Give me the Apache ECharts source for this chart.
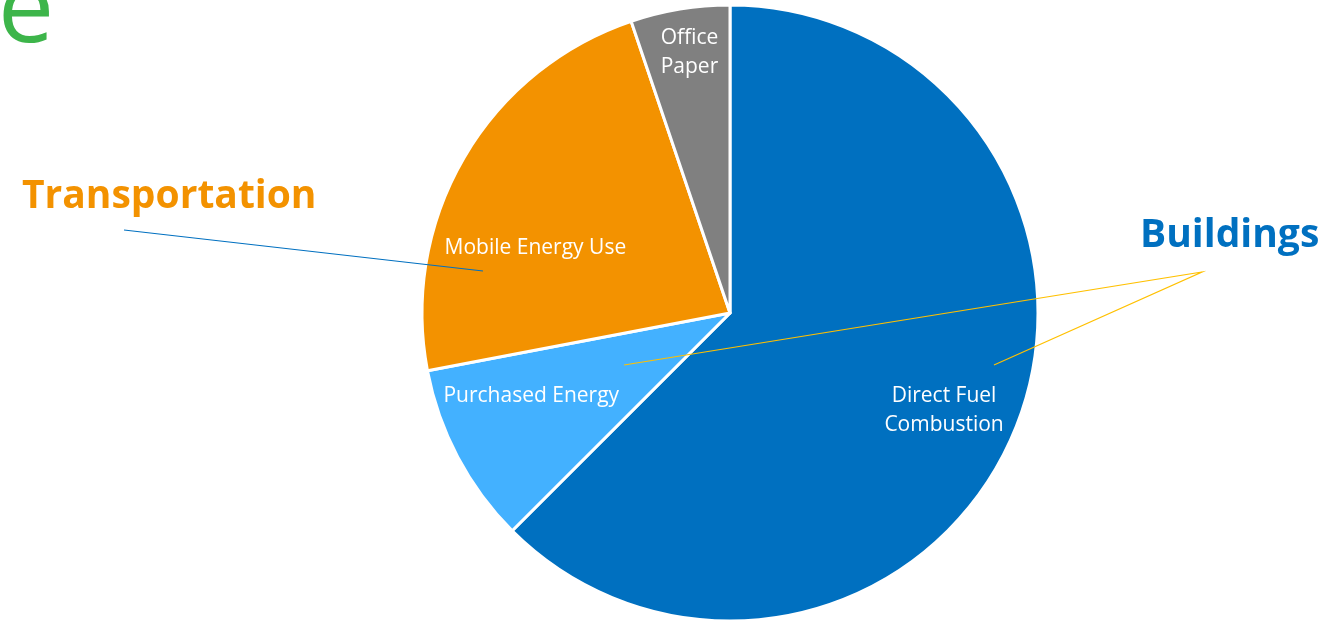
<!DOCTYPE html>
<html>
<head>
<meta charset="utf-8">
<title>Emissions by source</title>
<script src="https://cdn.jsdelivr.net/npm/echarts@6/dist/echarts.min.js"></script>
<style>
  html, body { margin: 0; padding: 0; background: #fff; }
  #chart { width: 1327px; height: 622px; }
</style>
</head>
<body>
<div id="chart"></div>
<script>
// slice names and shares (%), clockwise from 12 o'clock
const categories = ['Direct Fuel\nCombustion', 'Purchased Energy', 'Mobile Energy Use', 'Office\nPaper']
const shares = [62.5, 9.5, 22.8, 5.2]
const sliceColors = ['#0070C0', '#43B1FF', '#F39200', '#808080']

// label nudges from the default inside spot
const labelShift = [[69, 37], [-60, 10], [-59, 14], [-15, -106]]

const FONT = '"Open Sans", sans-serif'

const chart = echarts.init(document.getElementById('chart'))

const option = {
  animation: false,
  backgroundColor: '#fff',
  series: [
    {
      type: 'pie',
      center: [730, 313],
      radius: [0, 308],
      startAngle: 90,
      clockwise: true,
      silent: true,
      itemStyle: { borderColor: '#fff', borderWidth: 3 },
      label: {
        show: true,
        position: 'inside',
        color: '#fff',
        fontFamily: FONT,
        fontSize: 21,
        lineHeight: 29,
        align: 'center',
        formatter: p => p.name
      },
      labelLine: { show: false },
      labelLayout: p => ({ dx: labelShift[p.dataIndex][0], dy: labelShift[p.dataIndex][1] }),
      data: categories.map((c, i) => ({
        name: c,
        value: shares[i],
        itemStyle: { color: sliceColors[i] }
      }))
    }
  ],
  graphic: [
    // cut-off title letter
    {
      type: 'text',
      left: -2,
      top: -36,
      z: 100,
      style: { text: 'e', fill: '#3DB54A', font: '100px ' + FONT }
    },
    {
      type: 'text',
      left: 22,
      top: 177,
      z: 100,
      style: { text: 'Transportation', fill: '#F39200', font: 'bold 39px ' + FONT }
    },
    {
      type: 'text',
      left: 1140,
      top: 216,
      z: 100,
      style: { text: 'Buildings', fill: '#0070C0', font: 'bold 39px ' + FONT }
    },
    {
      type: 'line',
      z: 100,
      shape: { x1: 124, y1: 230, x2: 483, y2: 271 },
      style: { stroke: '#0070C0', lineWidth: 1.2 }
    },
    {
      type: 'polyline',
      z: 100,
      shape: { points: [[624, 365], [1202, 272], [994, 365]] },
      style: { stroke: '#FFC000', lineWidth: 1.2, fill: null }
    }
  ]
}

chart.setOption(option)
window.addEventListener('resize', () => chart.resize())
</script>
</body>
</html>
